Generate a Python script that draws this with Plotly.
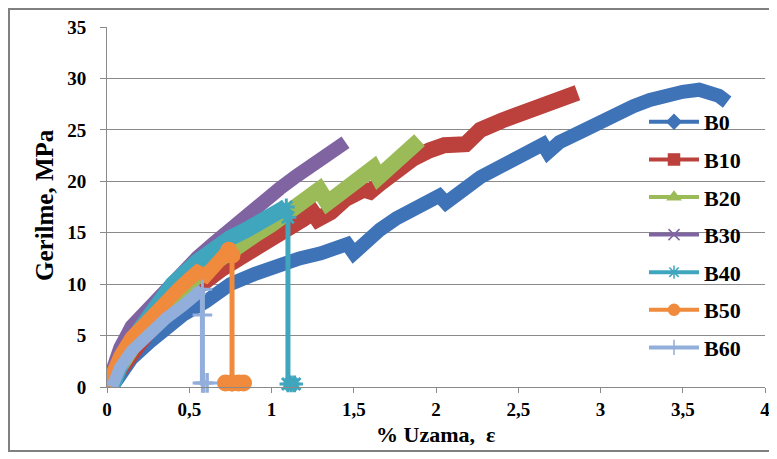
import plotly.graph_objects as go

# ---------------- data ----------------
x_tick_values = [0, 0.5, 1, 1.5, 2, 2.5, 3, 3.5, 4]
x_tick_labels = ["0", "0,5", "1", "1,5", "2", "2,5", "3", "3,5", "4"]
y_tick_values = [0, 5, 10, 15, 20, 25, 30, 35]
y_tick_labels = ["0", "5", "10", "15", "20", "25", "30", "35"]

series_names = ["B0", "B10", "B20", "B30", "B40", "B50", "B60"]

b0_strain = [0.03, 0.05, 0.08, 0.15, 0.26, 0.36, 0.46, 0.6, 0.75, 0.9, 1.05, 1.17, 1.3, 1.4, 1.46,
             1.5, 1.56, 1.66, 1.76, 1.9, 2.02, 2.06, 2.15, 2.27, 2.4, 2.57, 2.65, 2.68, 2.75, 2.88,
             3.0, 3.1, 3.2, 3.3, 3.4, 3.5, 3.6, 3.67, 3.72, 3.77]
b0_stress = [0.0, 0.5, 1.2, 2.8, 4.4, 5.8, 7.0, 8.3, 10.0, 11.0, 12.0, 12.5, 13.0, 13.5, 13.9,
             13.0, 14.0, 15.3, 16.4, 17.6, 18.6, 17.9, 19.0, 20.4, 21.5, 22.8, 23.6, 22.8, 23.8, 24.8,
             25.8, 26.6, 27.3, 27.9, 28.4, 28.7, 28.9, 28.7, 28.3, 27.7]

b10_strain = [0.0, 0.05, 0.1, 0.2, 0.3, 0.4, 0.5, 0.6, 0.7, 0.8, 0.9, 1.0, 1.11, 1.2, 1.25, 1.28,
              1.36, 1.45, 1.56, 1.6, 1.66, 1.76, 1.86, 1.96, 2.05, 2.18, 2.27, 2.4, 2.57, 2.7, 2.8, 2.86]
b10_stress = [0.0, 1.1, 2.4, 4.6, 6.4, 7.9, 9.2, 10.4, 11.5, 12.5, 13.4, 14.3, 15.5, 16.4, 17.0, 16.3,
              17.0, 18.3, 19.2, 19.0, 19.8, 21.2, 22.2, 23.0, 23.5, 23.6, 25.0, 25.9, 26.9, 27.8, 28.3, 28.6]

b20_strain = [0.0, 0.05, 0.1, 0.2, 0.3, 0.4, 0.5, 0.6, 0.7, 0.8, 0.9, 1.0, 1.1, 1.17, 1.29, 1.34,
              1.45, 1.55, 1.62, 1.65, 1.75, 1.85, 1.9]
b20_stress = [0.0, 1.3, 2.7, 5.0, 7.0, 8.7, 10.1, 11.5, 12.7, 13.8, 14.8, 15.8, 16.9, 17.9, 19.2, 17.9,
              19.2, 20.5, 21.3, 20.4, 21.8, 23.2, 24.0]

b30_strain = [0.0, 0.03, 0.08, 0.15, 0.26, 0.38, 0.44, 0.55, 0.65, 0.75, 0.85, 0.95, 1.05, 1.15,
              1.25, 1.35, 1.45]
b30_stress = [0.0, 1.5, 3.8, 5.9, 7.8, 9.8, 11.0, 12.6, 14.0, 15.4, 16.9, 18.0, 19.3, 20.5,
              21.6, 22.7, 23.8]

b40_strain = [0.03, 0.05, 0.1, 0.2, 0.32, 0.4, 0.55, 0.65, 0.75, 0.85, 0.95, 1.05, 1.09]
b40_stress = [0.0, 1.0, 2.8, 5.6, 8.6, 10.0, 12.2, 13.5, 14.5, 15.3, 16.2, 16.8, 17.5]
b40_drop_strain = [1.1, 1.1, 1.12, 1.14]
b40_drop_stress = [16.5, 0.3, 0.3, 0.3]

b50_strain = [0.0, 0.02, 0.05, 0.08, 0.15, 0.26, 0.36, 0.44, 0.5, 0.55, 0.6, 0.65, 0.7, 0.74]
b50_stress = [0.0, 0.8, 2.0, 3.0, 4.8, 6.8, 8.3, 9.6, 10.5, 11.2, 10.8, 11.6, 12.8, 13.3]
b50_drop_strain = [0.76, 0.76, 0.72, 0.76, 0.80, 0.83]
b50_drop_stress = [12.8, 0.4, 0.4, 0.4, 0.4, 0.4]

b60_strain = [0.03, 0.05, 0.08, 0.15, 0.26, 0.36, 0.46, 0.55, 0.58]
b60_stress = [0.0, 0.8, 1.9, 3.5, 5.3, 6.7, 7.9, 9.0, 9.5]
b60_drop_strain = [0.58, 0.58, 0.59, 0.61]
b60_drop_stress = [7.0, 0.4, 0.4, 0.4]

x_title = "% Uzama,  ε"
y_title = "Gerilme, MPa"

# ---------------- styling ----------------
colors = {"B0": "#3F73B8", "B10": "#BC403B", "B20": "#9BBB59", "B30": "#8064A2",
          "B40": "#3FA6BE", "B50": "#F08A3C", "B60": "#92AEDA"}
band_width = {"B0": 14, "B10": 16, "B20": 16, "B30": 14, "B40": 16, "B50": 14, "B60": 12}
legend_symbol = {"B0": "diamond", "B10": "square", "B20": "triangle-up", "B30": "x-thin-open",
                 "B40": "asterisk-open", "B50": "circle", "B60": "cross-thin-open"}
drop_symbol = {"B40": "asterisk-open", "B50": "circle", "B60": "cross-thin-open"}

curves = {
    "B0": (b0_strain, b0_stress),
    "B10": (b10_strain, b10_stress),
    "B20": (b20_strain, b20_stress),
    "B30": (b30_strain, b30_stress),
    "B40": (b40_strain, b40_stress),
    "B50": (b50_strain, b50_stress),
    "B60": (b60_strain, b60_stress),
}
drops = {
    "B40": (b40_drop_strain, b40_drop_stress),
    "B50": (b50_drop_strain, b50_drop_stress),
    "B60": (b60_drop_strain, b60_drop_stress),
}

fig = go.Figure()

for name in series_names:
    xs, ys = curves[name]
    fig.add_trace(go.Scatter(
        x=xs, y=ys, mode="lines", showlegend=False,
        line=dict(color=colors[name], width=band_width[name]),
        hoverinfo="skip"))
    if name in drops:
        dx, dy = drops[name]
        fig.add_trace(go.Scatter(
            x=[xs[-1]] + dx, y=[ys[-1]] + dy, mode="lines+markers", showlegend=False,
            line=dict(color=colors[name], width=5),
            marker=dict(symbol=drop_symbol[name], size=14, color=colors[name],
                        line=dict(color=colors[name], width=3)),
            cliponaxis=False, hoverinfo="skip"))

# legend entries
for name in series_names:
    fig.add_trace(go.Scatter(
        x=[None], y=[None], mode="lines+markers", name=name, legendgroup=name,
        line=dict(color=colors[name], width=4),
        marker=dict(symbol=legend_symbol[name], size=11, color=colors[name],
                    line=dict(color=colors[name], width=1.5))))

font_family = "Liberation Serif, Times New Roman, serif"

# the page body has an 8px margin: the figure sits at page (8, 8)
OFF = 8
W, H = 777 - OFF, 459 - OFF
# plot area wanted on the page: x 107..765, y 27..387
L, R, T, B = 107 - OFF, (OFF + W) - 765, 27 - OFF, (OFF + H) - 387
pw, ph = W - L - R, H - T - B

def px_to_paper(px, py):
    fx, fy = px - OFF, py - OFF
    return (fx - L) / pw, (H - B - fy) / ph

xt_x, xt_y = px_to_paper(435, 434)
yt_x, yt_y = px_to_paper(44, 205)
bx0, by1 = px_to_paper(9, 9)
bx1, by0 = px_to_paper(800, 451)
lg_x, lg_y = px_to_paper(644, 101)

fig.update_layout(
    width=W, height=H,
    margin=dict(l=L, r=R, t=T, b=B),
    paper_bgcolor="white", plot_bgcolor="white",
    font=dict(family=font_family, color="black"),
    showlegend=True,
    legend=dict(x=lg_x, y=lg_y, xanchor="left", yanchor="top",
                bgcolor="rgba(0,0,0,0)", tracegroupgap=6, itemwidth=50,
                font=dict(family=font_family, size=22, color="black", weight="bold")),
    shapes=[dict(type="rect", xref="paper", yref="paper", x0=bx0, x1=bx1, y0=by0, y1=by1,
                 line=dict(color="#808080", width=2), layer="below")],
    annotations=[
        dict(text=x_title, xref="paper", yref="paper", x=xt_x, y=xt_y, showarrow=False,
             xanchor="center", yanchor="middle",
             font=dict(family=font_family, size=22, color="black", weight="bold")),
        dict(text=y_title, xref="paper", yref="paper", x=yt_x, y=yt_y, showarrow=False,
             xanchor="center", yanchor="middle", textangle=-90,
             font=dict(family=font_family, size=25, color="black", weight="bold")),
    ],
)

fig.update_xaxes(
    range=[0, 4], tickvals=x_tick_values, ticktext=x_tick_labels, automargin=False,
    showgrid=False, zeroline=False, showline=True, linecolor="#8a8a8a", linewidth=1,
    ticks="outside", ticklen=5, tickcolor="#8a8a8a", ticklabelstandoff=0,
    tickfont=dict(family=font_family, size=19, color="black", weight="bold"),
)
fig.update_yaxes(
    range=[0, 35], tickvals=y_tick_values, ticktext=y_tick_labels, automargin=False,
    showgrid=True, gridcolor="#8a8a8a", gridwidth=1, zeroline=False,
    showline=True, linecolor="#8a8a8a", linewidth=1,
    ticks="outside", ticklen=6, tickcolor="#8a8a8a", ticklabelstandoff=10,
    tickfont=dict(family=font_family, size=19, color="black", weight="bold"),
)

fig.write_html("out.html")
